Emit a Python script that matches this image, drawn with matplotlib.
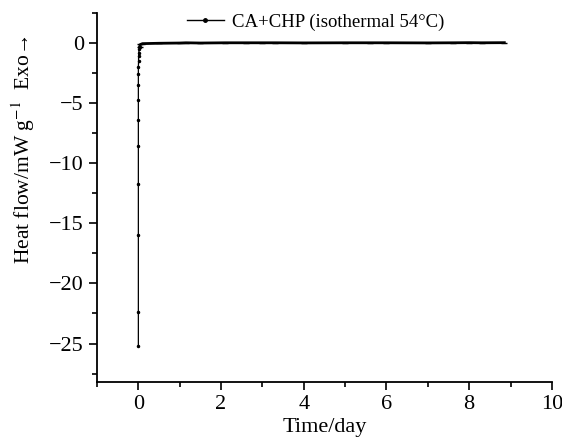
import numpy as np
import matplotlib.pyplot as plt
from matplotlib.ticker import MultipleLocator
from matplotlib.lines import Line2D

plt.rcParams['font.family'] = ['Liberation Serif', 'DejaVu Sans']
plt.rcParams['mathtext.fontset'] = 'stix'

# heat flow data (time in days, heat flow in mW/g)
time_day = [0.0, 0.0, 0.0, 0.0, 0.0, 0.0, 0.0, 0.0, 0.0, 0.0, 0.005, 0.005,
            0.01, 0.02, 0.03, 0.05, 0.1, 0.5, 1.0, 1.15, 1.5, 2.1, 2.6, 3.0,
            3.3, 4.0, 5.0, 5.6, 6.0, 7.0, 7.6, 8.0, 8.3, 8.85]
heat_flow = [-25.2, -22.4, -16.0, -11.7, -8.6, -6.4, -4.7, -3.5, -2.6, -2.0, -1.5, -1.1,
             -0.8, -0.5, -0.3, -0.12, -0.05, -0.02, 0.0, 0.02, 0.0, 0.02, 0.02, 0.02,
             0.02, 0.01, 0.02, 0.02, 0.02, 0.01, 0.02, 0.03, 0.02, 0.03]
label = 'CA+CHP (isothermal 54°C)'

fig = plt.figure(figsize=(5.62, 4.43), dpi=100)
ax = fig.add_axes([0.1726, 0.1377, 0.8094, 0.833])

# steep initial drop drawn thin, the long plateau drawn heavier
split = 14
ax.plot(time_day[:split + 1], heat_flow[:split + 1], color='black', lw=0.9,
        marker='.', ms=3)
ax.plot(time_day[split:], heat_flow[split:], color='black', lw=2.0,
        marker='_', ms=5)

ax.set_xlim(-1, 10)
ax.set_ylim(-28.2, 2.5)
ax.xaxis.set_major_locator(MultipleLocator(2))
ax.xaxis.set_minor_locator(MultipleLocator(1))
ax.yaxis.set_major_locator(MultipleLocator(5))
ax.yaxis.set_minor_locator(MultipleLocator(2.5))
ax.tick_params(which='major', direction='out', length=6, width=1.2, labelsize=16)
ax.tick_params(which='minor', direction='out', length=3.5, width=1.2)
for s in ['top', 'right']:
    ax.spines[s].set_visible(False)
for s in ['left', 'bottom']:
    ax.spines[s].set_linewidth(1.3)

ax.set_xlabel('Time/day', fontsize=16)
ax.xaxis.set_label_coords(0.5, -0.098)
ax.set_ylabel('Heat flow/mW g$^{-1}$  Exo\u2192', fontsize=15.5)
ax.yaxis.set_label_coords(-0.132, 0.63)

handle = Line2D([], [], color='black', lw=1.0, marker='.', ms=5)
ax.legend([handle], [label], loc='center left', bbox_to_anchor=(0.16, 0.975),
          frameon=False, fontsize=13.5, handlelength=2.0, handletextpad=0.4)

fig.savefig('out.png', dpi=100)
